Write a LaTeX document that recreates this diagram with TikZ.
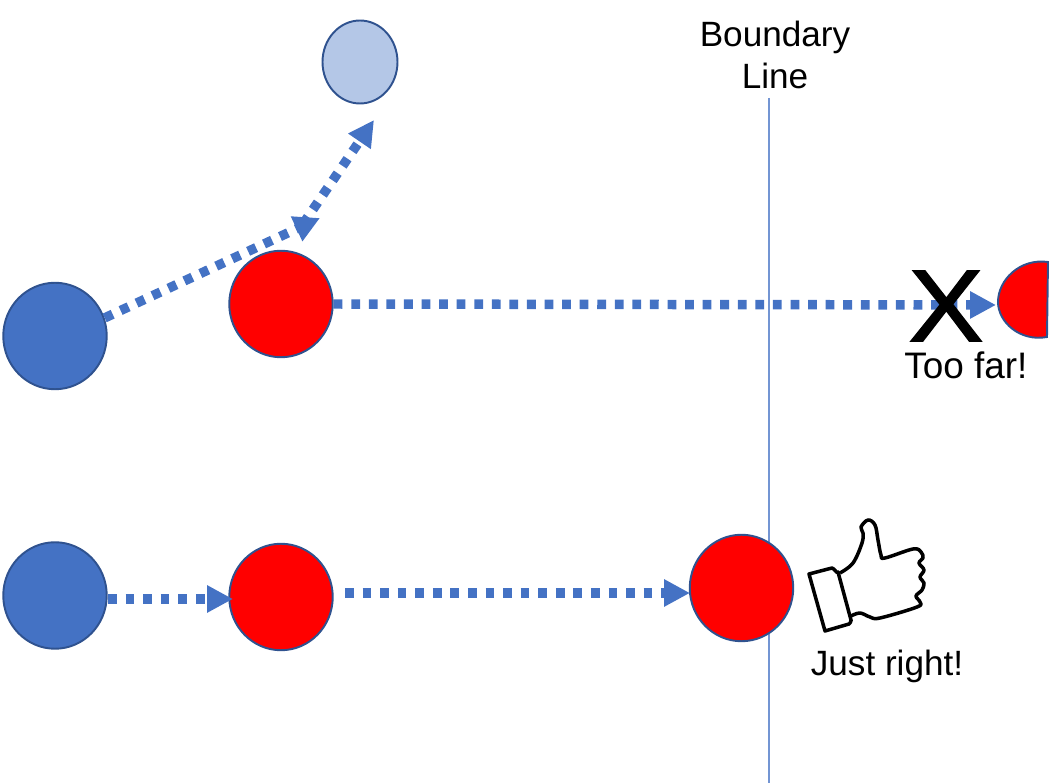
\documentclass[tikz,border=0pt]{standalone}
\usepackage{fontspec}
\setmainfont{Liberation Sans}
\newfontfamily\crossfont[FakeBold=1.5]{Liberation Sans}
\usetikzlibrary{arrows.meta,shapes.geometric}
\definecolor{ptblue}{HTML}{4472C4}
\definecolor{ptedge}{HTML}{2F528F}
\definecolor{ptpale}{HTML}{B4C7E7}

\begin{document}
\begin{tikzpicture}[x=0.02cm,y=-0.02cm,
  ball/.style={ellipse,draw=ptedge,line width=1.1pt,minimum width=2.07cm,minimum height=2.13cm,inner sep=0pt},
  blueball/.style={ball,fill=ptblue},
  redball/.style={ball,fill=red},
  dotarrow/.style={ptblue,line width=5.4pt,dash pattern=on 5pt off 5pt,
    -{Triangle[length=14.7pt,width=14.6pt,fill=ptblue]}},
  caption/.style={font=\fontsize{20}{24}\selectfont,inner sep=0pt,align=center},
  thumbline/.style={black,line width=2pt,line join=round}]
\useasboundingbox (0,0) rectangle (1063,783);
\coordinate (linetop) at (769,98); \coordinate (linebot) at (769,783);
\draw[ptblue!75,line width=0.6pt] (linetop)--(linebot);
\node[blueball] (blueA) at (55,336) {}; \node[redball] (redA) at (281,304) {};
\node[blueball] (blueB) at (55,595.5) {}; \node[redball] (redB) at (281,597) {};
\node[redball] (redC) at (741.5,588) {};
\node[ellipse,draw=ptedge,line width=1.1pt,fill=ptpale,minimum width=1.5cm,minimum height=1.66cm,inner sep=0pt] (pale) at (360,62) {};
\coordinate (kinkend) at (320,218); \coordinate (kinkstart) at (303,224);
\coordinate (paleend) at (374,120); \coordinate (farend) at (996,305);
\coordinate (redCend) at (690,593); \coordinate (redBstart) at (345,593);
\coordinate (blueBstart) at (108,599); \coordinate (redBend) at (233,599);
\draw[dotarrow] (blueA.20)--(kinkend);
\draw[dotarrow] (kinkstart)--(paleend);
\draw[dotarrow] (redA.east)--(farend);
\draw[dotarrow] (blueBstart)--(redBend);
\draw[dotarrow] (redBstart)--(redCend);
\draw[fill=red,draw=ptedge,line width=1.1pt] (1048,262) .. controls (1020,258) and (998,280) .. (998,302) .. controls (998,322) and (1020,342) .. (1047,337) -- cycle;
\node[font=\fontsize{58}{58}\crossfont,xscale=1.1,inner sep=0pt] (cross) at (946,306) {X};
\node[caption,font=\fontsize{21}{24}\selectfont] (toofar) at (966,365) {Too far!};
\node[caption] (justright) at (887,666) {Just right!};
\node[caption] (boundary) at (775,55) {Boundary\\Line};
\draw[thumbline] (809,574)--(832,568) to[out=-10,in=-110] (838,572)--(851,620) to[out=70,in=20] (849,624)--(825,631)--cycle;
\draw[thumbline] plot[smooth,tension=0.6] coordinates {(840,573) (853,563) (862,543) (863,533) (861,527) (868,520) (875,525) (878,540) (881,555) (885,558) (913,549) (921,552) (923,558) (919,563) (924,570) (920,577) (924,583) (922,590) (916,596) (920,602) (917,607) (880,618) (870,617) (860,613) (851,616)};
\end{tikzpicture}
\end{document}
